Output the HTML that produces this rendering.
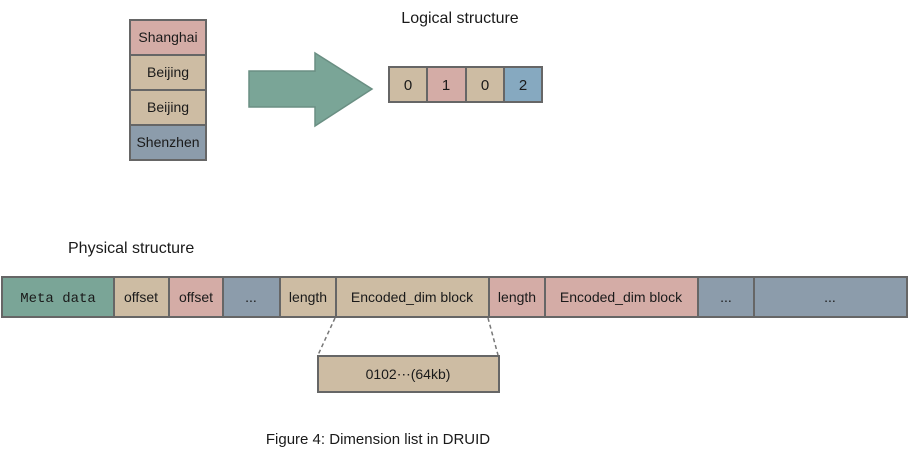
<!DOCTYPE html>
<html><head><meta charset="utf-8"><style>
html,body{margin:0;padding:0;background:#fff;}
svg{display:block;}
text{font-family:"Liberation Sans",sans-serif;fill:#1a1a1a;}
</style></head><body>
<svg width="909" height="461" viewBox="0 0 909 461" xmlns="http://www.w3.org/2000/svg">
<g stroke="#666" stroke-width="2">
<rect x="130" y="20" width="76" height="35" fill="#d4aca6"/>
<rect x="130" y="55" width="76" height="35" fill="#cdbca3"/>
<rect x="130" y="90" width="76" height="35" fill="#cdbca3"/>
<rect x="130" y="125" width="76" height="35" fill="#8c9cab"/>
</g>
<g font-size="14" text-anchor="middle">
<text x="168" y="42">Shanghai</text>
<text x="168" y="77">Beijing</text>
<text x="168" y="112">Beijing</text>
<text x="168" y="147">Shenzhen</text>
</g>
<polygon points="249,71 315,71 315,53 372,89 315,126 315,107 249,107" fill="#7aa597" stroke="#6a8f83" stroke-width="1.5"/>
<text x="460" y="23" font-size="16" text-anchor="middle">Logical structure</text>
<g stroke="#666" stroke-width="2">
<rect x="389" y="67" width="38" height="35" fill="#cdbca3"/>
<rect x="427" y="67" width="39" height="35" fill="#d4aca6"/>
<rect x="466" y="67" width="38" height="35" fill="#cdbca3"/>
<rect x="504" y="67" width="38" height="35" fill="#86a9c0"/>
</g>
<g font-size="15" text-anchor="middle">
<text x="408" y="90">0</text><text x="446" y="90">1</text><text x="485" y="90">0</text><text x="523" y="90">2</text>
</g>
<text x="68" y="253" font-size="16">Physical structure</text>
<g stroke="#666" stroke-width="2">
<rect x="2" y="277" width="112" height="40" fill="#7aa597"/>
<rect x="114" y="277" width="55" height="40" fill="#cdbca3"/>
<rect x="169" y="277" width="54" height="40" fill="#d4aca6"/>
<rect x="223" y="277" width="57" height="40" fill="#8c9cab"/>
<rect x="280" y="277" width="56" height="40" fill="#cdbca3"/>
<rect x="336" y="277" width="153" height="40" fill="#cdbca3"/>
<rect x="489" y="277" width="56" height="40" fill="#d4aca6"/>
<rect x="545" y="277" width="153" height="40" fill="#d4aca6"/>
<rect x="698" y="277" width="56" height="40" fill="#8c9cab"/>
<rect x="754" y="277" width="153" height="40" fill="#8c9cab"/>
<rect x="318" y="356" width="181" height="36" fill="#cdbca3"/>
</g>
<g stroke="#777" stroke-width="1.5" stroke-dasharray="4,3">
<line x1="335" y1="318" x2="318" y2="355"/>
<line x1="488" y1="318" x2="498" y2="355"/>
</g>
<g font-size="14" text-anchor="middle">
<text x="58" y="302" style="font-family:'Liberation Mono',monospace" font-size="14">Meta data</text>
<text x="141" y="302">offset</text>
<text x="196" y="302">offset</text>
<text x="251" y="302">...</text>
<text x="308" y="302">length</text>
<text x="412" y="302">Encoded_dim block</text>
<text x="517" y="302">length</text>
<text x="621" y="302">Encoded_dim block</text>
<text x="726" y="302">...</text>
<text x="830" y="302">...</text>
<text x="408" y="379">0102⋯(64kb)</text>
</g>
<text x="378" y="444" font-size="15" text-anchor="middle">Figure 4: Dimension list in DRUID</text>
</svg>
</body></html>
